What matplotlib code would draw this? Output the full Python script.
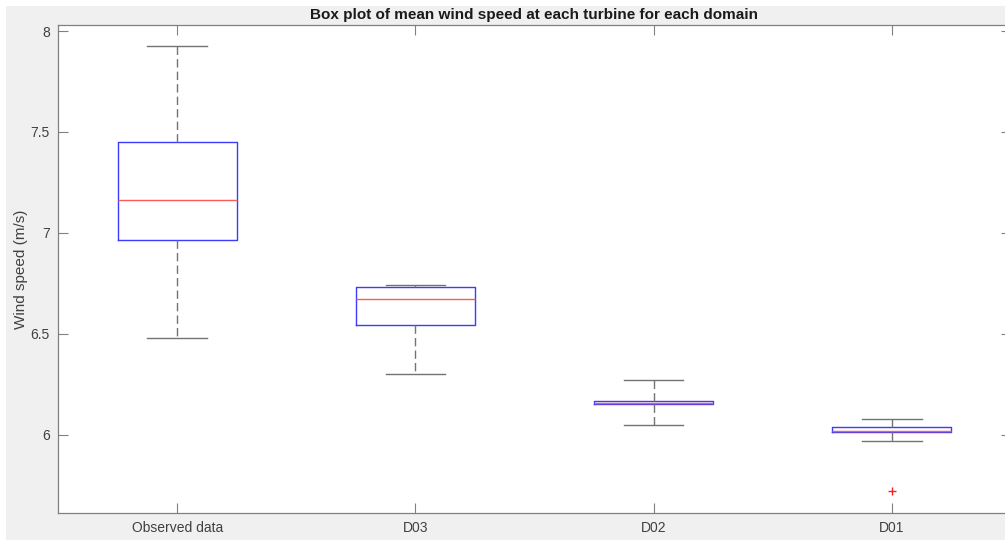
import matplotlib.pyplot as plt
from matplotlib.patches import Rectangle

plt.rcParams["font.family"] = ["Liberation Sans", "DejaVu Sans"]

# Summary statistics per domain (m/s)
labels = ["Observed data", "D03", "D02", "D01"]
whislo = [6.478, 6.299, 6.048, 5.970]
q1 = [6.964, 6.541, 6.150, 6.011]
med = [7.163, 6.670, 6.158, 6.018]
q3 = [7.449, 6.731, 6.167, 6.038]
whishi = [7.924, 6.741, 6.269, 6.079]
fliers = [[], [], [], [5.719]]

stats = [
    dict(label=lab, whislo=lo, q1=a, med=m, q3=b, whishi=hi, fliers=f)
    for lab, lo, a, m, b, hi, f in zip(labels, whislo, q1, med, q3, whishi, fliers)
]

W, H = 1005, 540
fig = plt.figure(figsize=(W / 100, H / 100), dpi=100, facecolor="#f0f0f0")
# thin white strip along top and left edges
fig.patches.append(Rectangle((0, 1 - 6 / H), 1, 6 / H, transform=fig.transFigure,
                             fc="white", ec="none", zorder=-1))
fig.patches.append(Rectangle((0, 0), 6 / W, 1, transform=fig.transFigure,
                             fc="white", ec="none", zorder=-1))

left, right, top, bottom = 58, 1011, 25, 513
ax = fig.add_axes([left / W, 1 - bottom / H, (right - left) / W, (bottom - top) / H])

ax.bxp(stats, positions=[1, 2, 3, 4], widths=0.5, showfliers=True,
       boxprops=dict(color="#3c3cff", linewidth=1.0),
       medianprops=dict(color="#ff5a5a", linewidth=1.0),
       whiskerprops=dict(color="0.45", linewidth=1.0, linestyle=(0, (6, 3))),
       capprops=dict(color="0.45", linewidth=1.0),
       flierprops=dict(marker="+", markeredgecolor="#ff2020", markersize=6,
                       markeredgewidth=1.0, linestyle="none"),
       capwidths=0.25)

ax.set_xlim(0.5, 4.5)
ax.set_ylim(5.611, 8.03)
ax.set_yticks([6, 6.5, 7, 7.5, 8])
ax.set_yticklabels(["6", "6.5", "7", "7.5", "8"])
ax.set_xticks([1, 2, 3, 4])
ax.set_xticklabels(labels)

ax.tick_params(direction="in", length=7, width=0.8, color="0.5",
               labelsize=10, labelcolor="0.25", top=True, right=True, pad=6)
for s in ax.spines.values():
    s.set_color("0.5")
    s.set_linewidth(0.9)

ax.set_ylabel("Wind speed (m/s)", fontsize=11, color="0.25")
ax.yaxis.set_label_coords(-0.031, 0.5)
ax.set_title("Box plot of mean wind speed at each turbine for each domain",
             fontsize=11, fontweight="bold", color="0.1", pad=4)

fig.savefig("out.png", dpi=100, facecolor=fig.get_facecolor())
